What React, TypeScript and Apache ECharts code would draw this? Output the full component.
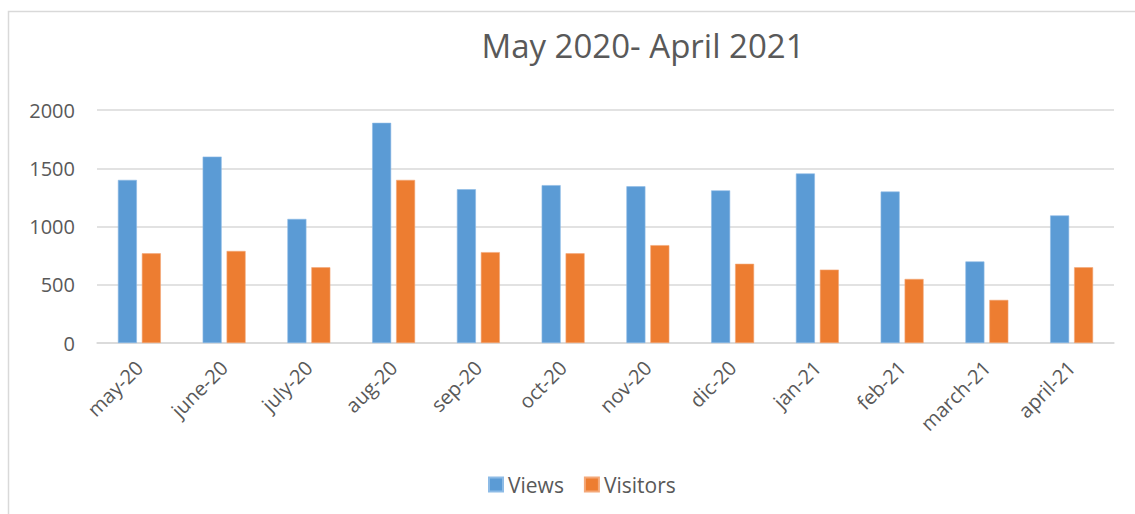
import React, { useEffect, useRef } from "react";
import * as echarts from "echarts";

const categories = ["may-20", "june-20", "july-20", "aug-20", "sep-20", "oct-20", "nov-20", "dic-20", "jan-21", "feb-21", "march-21", "april-21"];
const views = [1400, 1600, 1065, 1890, 1320, 1355, 1345, 1310, 1455, 1300, 700, 1095];
const visitors = [770, 790, 650, 1400, 780, 770, 840, 680, 630, 550, 370, 650];
const yTicks = { min: 0, max: 2000, interval: 500 };

const FONT = "'Open Sans', 'Noto Sans', sans-serif";
const TEXT = "#595959";

export default function App() {
  const ref = useRef<HTMLDivElement>(null);
  useEffect(() => {
    document.body.style.margin = "0";
    const chart = echarts.init(ref.current!, null, { renderer: "svg" });
    chart.setOption({
      animation: false,
      backgroundColor: "#ffffff",
      title: {
        text: "May 2020- April 2021",
        left: 638,
        textAlign: "center",
        top: 24,
        textStyle: { fontFamily: FONT, fontSize: 33, fontWeight: "normal", color: TEXT },
      },
      legend: {
        top: 469,
        left: 483,
        itemWidth: 14,
        itemHeight: 14,
        itemGap: 20,
        icon: "rect",
        textStyle: { fontFamily: FONT, fontSize: 21, color: TEXT },
        data: ["Views", "Visitors"],
      },
      graphic: [
        {
          type: "rect",
          shape: { x: 8.5, y: 11.5, width: 1140, height: 520 },
          style: { fill: "none", stroke: "#d9d9d9", lineWidth: 1.5 },
          silent: true,
          z: -1,
        },
      ],
      grid: { left: 97, right: 21, top: 110, bottom: 171, containLabel: false },
      xAxis: {
        type: "category",
        data: categories,
        axisLine: { show: true, lineStyle: { color: "#d9d9d9", width: 1.5 } },
        axisTick: { show: false },
        axisLabel: {
          rotate: 45,
          interval: 0,
          margin: 21,
          fontFamily: FONT,
          fontSize: 20,
          color: TEXT,
        },
      },
      yAxis: {
        type: "value",
        min: yTicks.min,
        max: yTicks.max,
        interval: yTicks.interval,
        axisLine: { show: false },
        axisTick: { show: false },
        splitLine: { lineStyle: { color: "#d9d9d9", width: 1.5 } },
        axisLabel: {
          fontFamily: FONT,
          fontSize: 20,
          color: TEXT,
          margin: 22,
          formatter: (v: number) => String(v),
        },
      },
      series: [
        {
          name: "Views",
          type: "bar",
          data: views,
          barWidth: 19,
          barGap: "26%",
          itemStyle: { color: "#5b9bd5", borderColor: "#8dbbe6", borderWidth: 0.6 },
        },
        {
          name: "Visitors",
          type: "bar",
          data: visitors,
          barWidth: 19,
          barGap: "26%",
          itemStyle: { color: "#ed7d31", borderColor: "#f4a878", borderWidth: 0.6 },
        },
      ],
    });
    return () => chart.dispose();
  }, []);
  return <div ref={ref} style={{ width: 1135, height: 514 }} />;
}
